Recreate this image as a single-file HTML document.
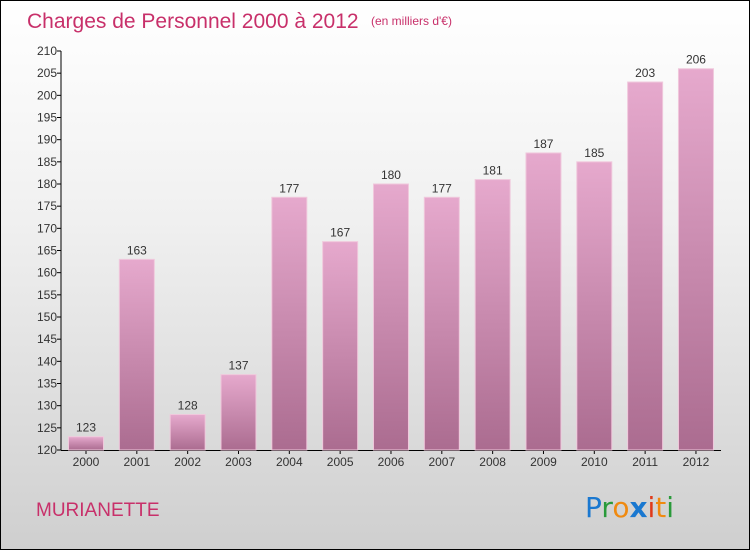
<!DOCTYPE html>
<html><head><meta charset="utf-8"><style>
body{margin:0}
#wrap{position:relative;width:748px;height:548px;border:1px solid #000;background:linear-gradient(#ffffff,#f0f0f0 40%,#cfcfcf);font-family:"Liberation Sans",sans-serif;overflow:hidden}
</style></head><body>
<div id="wrap">
<svg id="chart" width="748" height="548">
<defs><linearGradient id="bg" x1="0" y1="0" x2="0" y2="1"><stop offset="0" stop-color="#e6a9cd"/><stop offset="1" stop-color="#ab6c90"/></linearGradient></defs>
<text x="26" y="27" font-size="21" fill="#c8306a">Charges de Personnel 2000 à 2012</text>
<text x="370" y="24" font-size="12" fill="#c8306a">(en milliers d'€)</text>
<text x="35" y="515" font-size="19" fill="#c8306a">MURIANETTE</text>
<g font-size="28" font-family="'DejaVu Sans',sans-serif">
<text x="584" y="516"><tspan fill="#1a78d0">P</tspan><tspan fill="#2a9a3a">r</tspan><tspan fill="#f08a10">o</tspan><tspan fill="#1a78d0" font-weight="bold">x</tspan><tspan fill="#e03a1a">i</tspan><tspan fill="#f08a10">t</tspan><tspan fill="#2a9a3a">i</tspan></text>
</g>
<g id="axes"></g><g id="bars"></g>
</svg>
</div>
<script>
const categories=["2000","2001","2002","2003","2004","2005","2006","2007","2008","2009","2010","2011","2012"];
const values=[123,163,128,137,177,167,180,177,181,187,185,203,206];
const yTicks=[120,125,130,135,140,145,150,155,160,165,170,175,180,185,190,195,200,205,210];
const ns="http://www.w3.org/2000/svg";
const svg=document.getElementById('chart');
const ax=document.getElementById('axes'),bg=document.getElementById('bars');
const yMin=120,yMax=210,yTop=50,yBot=449,x0=60;
const y=v=>yBot-(v-yMin)/(yMax-yMin)*(yBot-yTop);
const xc=i=>85+i*50.83;
function mk(t,a,p){const e=document.createElementNS(ns,t);for(const k in a)e.setAttribute(k,a[k]);p.appendChild(e);return e;}
let l=mk('line',{x1:x0,y1:yTop,x2:x0,y2:yBot,stroke:'#000'},ax);


l=mk('line',{x1:x0,y1:yBot+0.5,x2:720,y2:yBot+0.5,stroke:'#000'},ax);


yTicks.forEach(v=>{
 mk('line',{x1:x0-4,y1:y(v),x2:x0,y2:y(v),stroke:'#000'},ax);
 const t=mk('text',{x:x0-4,y:y(v)+4,'font-size':12,'text-anchor':'end',fill:'#333'},ax);
 t.textContent=v;
 
 
});
categories.forEach((c,i)=>{
 const v=values[i];
 const r=mk('rect',{x:xc(i)-17.5,y:y(v),width:35,height:yBot-y(v),fill:'url(#bg)',stroke:'#f0c8dc','stroke-width':1},bg);
 
 
 const t=mk('text',{x:xc(i),y:y(v)-5,'font-size':12,'text-anchor':'middle',fill:'#333'},bg);
 t.textContent=v;
 
 
 mk('line',{x1:xc(i),y1:yBot,x2:xc(i),y2:yBot+4,stroke:'#000'},ax);
 const x=mk('text',{x:xc(i),y:yBot+16,'font-size':12,'text-anchor':'middle',fill:'#333'},ax);
 x.textContent=c;
 
 
});
</script>
</body></html>
